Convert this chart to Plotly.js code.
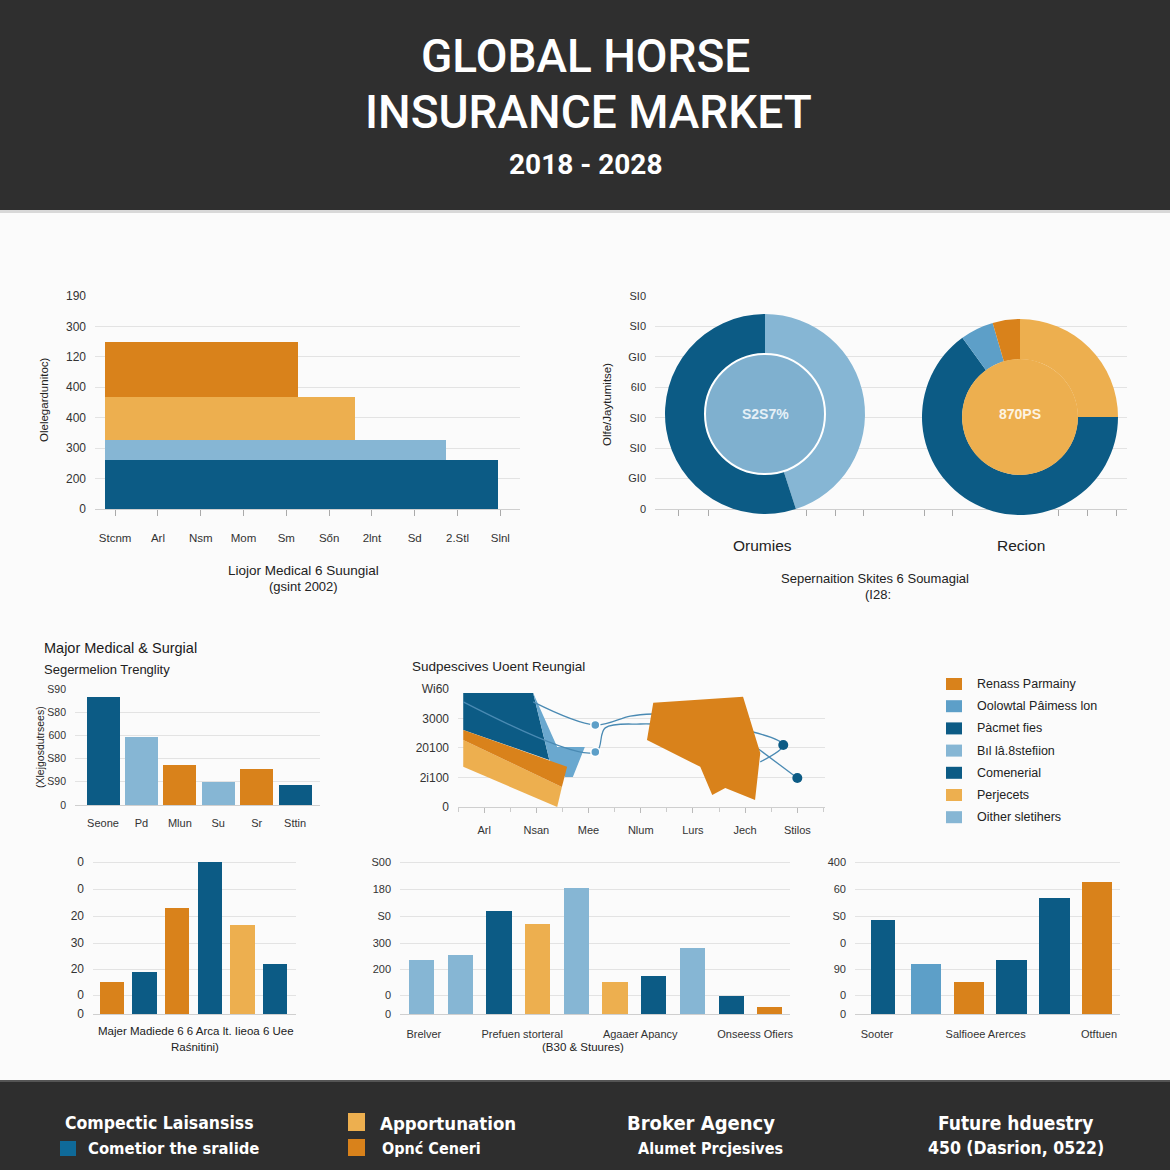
<!DOCTYPE html>
<html><head><meta charset="utf-8">
<script src="https://cdn.plot.ly/plotly-3.0.1.min.js"></script>
<style>html,body{margin:0;padding:0;background:#fbfbfb}#chart{width:1170px;height:1170px}</style>
</head><body><div id="chart"></div>
<script>
// ---------------- DATA ----------------
// Panel 1 (stepped horizontal bars)
const p1YTicks = ['0','200','300','400','400','120','300','190'];
const p1XTicks = ['Stcnm','Arl','Nsm','Mom','Sm','Sőn','2lnt','Sd','2.Stl','Slnl'];
const p1Start = -0.23;
const p1End  = [8.95, 7.73, 5.61, 4.28];
const p1Low  = [0, 1.61, 2.27, 3.68];
const p1High = [1.61, 2.27, 3.68, 5.49];

// Panel 2 (two donuts)
const p2YTicks = ['0','GI0','SI0','SI0','6I0','GI0','SI0','SI0'];
const donut1Values = [45, 55];
const donut2Values = [25, 65, 5.5, 4.5];
const donutNames = ['Orumies', 'Recion'];
const donutCenters = ['S2S7%', '870PS'];

// Panel 3
const p3Cats = ['Seone','Pd','Mlun','Su','Sr','Sttin'];
const p3Values = [4.66, 2.93, 1.72, 0.99, 1.55, 0.86];
const p3YTicks = ['0','S90','S80','600','S80','S90'];

// Panel 4 (areas + lines)
const p4Cats = ['Arl','Nsan','Mee','Nlum','Lurs','Jech','Stilos'];
const p4YTicks = ['0','2i100','20100','3000','Wi60'];
const p4DarkX = [-0.40, 0.94, 1.25, -0.40];
const p4DarkY = [3.86, 3.86, 1.59, 2.61];
const p4LightX = [0.94, 1.40, 1.93, 1.70, 1.55, 1.25];
const p4LightY = [3.86, 2.03, 2.03, 1.02, 1.02, 1.59];
const p4OrangeX = [-0.40, 1.59, 1.49, -0.40];
const p4OrangeY = [2.61, 1.36, 0.68, 2.27];
const p4LOrangeX = [-0.40, 1.49, 1.40, -0.40];
const p4LOrangeY = [2.27, 0.68, 0.00, 1.36];
const p4BigX = [3.24, 4.96, 5.29, 5.19, 4.62, 4.37, 4.14, 3.12];
const p4BigY = [3.53, 3.73, 1.83, 0.24, 0.64, 0.41, 1.36, 2.27];
const p4LineAX = [0.94, 2.13, 2.80, 3.24];
const p4LineAY = [3.56, 2.78, 3.08, 3.15];
const p4LineBX = [-0.40, 2.13, 2.32, 2.99, 3.24];
const p4LineBY = [3.56, 1.86, 2.68, 2.81, 2.81];
const p4LineCX = [5.15, 5.73, 5.29];
const p4LineCY = [2.54, 2.10, 1.53];
const p4LineDX = [5.23, 6.00];
const p4LineDY = [2.00, 0.98];
const p4PtsLX = [2.13, 2.13];
const p4PtsLY = [2.78, 1.86];
const p4PtsDX = [5.73, 6.00];
const p4PtsDY = [2.10, 0.98];

// Legend
const legendLabels = ['Renass Parmainy','Oolowtal Pâimess lon','Pàcmet fies','Bıl lâ.8stefiion','Comenerial','Perjecets','Oither sletihers'];

// Panel 5
const p5Values = [1.21, 1.59, 4.02, 5.76, 3.37, 1.89];
const p5YTicks = ['0','0','20','30','20','0','0'];

// Panel 6
const p6Values = [2.05, 2.23, 3.90, 3.41, 4.77, 1.21, 1.44, 2.50, 0.68, 0.27];
const p6Labels = ['Brelver','Prefuen storteral','Agaaer Apancy','Onseess Ofiers'];
const p6YTicks = ['0','0','200','300','S0','180','S00'];

// Panel 7
const p7Values = [3.56, 1.89, 1.21, 2.05, 4.39, 5.00];
const p7Labels = ['Sooter','Salfioee Arerces','Otftuen'];
const p7YTicks = ['0','0','90','0','S0','60','400'];

// ---------------- STYLE ----------------
const W = 1170, H = 1170;
const DARK='#0c5b85', LIGHT='#86b6d4', MID='#5d9fc8', ORANGE='#d9821b', LORANGE='#edaf4f', INNER1='#7fb0cf';
const FONT = 'Liberation Sans, Arial, sans-serif';
const TICKF = {family: FONT, size: 12, color: '#333'};
const GRID = '#e3e3e3';
const px = v => v / W, py = v => 1 - v / H;

const p1Colors = [DARK, LIGHT, LORANGE, ORANGE];
const d1Colors = [LIGHT, DARK];
const d2Colors = [LORANGE, DARK, MID, ORANGE];
const p3Colors = [DARK, LIGHT, ORANGE, LIGHT, ORANGE, DARK];
const p5Colors = [ORANGE, DARK, ORANGE, DARK, LORANGE, DARK];
const p6Colors = [LIGHT, LIGHT, DARK, LORANGE, LIGHT, LORANGE, DARK, LIGHT, DARK, ORANGE];
const p7Colors = [DARK, MID, ORANGE, DARK, DARK, ORANGE];
const p7Widths = [0.57, 0.70, 0.70, 0.72, 0.72, 0.70];
const legendColors = [ORANGE, MID, DARK, LIGHT, DARK, LORANGE, LIGHT];

const idx = a => a.map((_, i) => i);

// ---------------- TRACES ----------------
const traces = [];
// Panel 1
traces.push({type:'bar', orientation:'h', xaxis:'x', yaxis:'y',
  x: p1End.map(e => e - p1Start), base: p1Start,
  y: p1Low.map((l, i) => (l + p1High[i]) / 2),
  width: p1Low.map((l, i) => p1High[i] - l),
  marker:{color:p1Colors, line:{width:0}}, hoverinfo:'skip', showlegend:false});
// Panel 2 axes holder
traces.push({type:'scatter', mode:'markers', x:[null], y:[null], xaxis:'x2', yaxis:'y2', showlegend:false, hoverinfo:'skip'});
// Donuts
traces.push({type:'pie', values:donut1Values, marker:{colors:d1Colors, line:{width:0}}, hole:0.6, sort:false,
  direction:'clockwise', rotation:0, textinfo:'none', hoverinfo:'skip', showlegend:false,
  domain:{x:[px(665), px(865)], y:[py(514), py(314)]}});
traces.push({type:'pie', values:[1], marker:{colors:[INNER1], line:{color:'#ffffff', width:2}}, sort:false,
  textinfo:'none', hoverinfo:'skip', showlegend:false,
  domain:{x:[px(705), px(825)], y:[py(474), py(354)]}});
traces.push({type:'pie', values:donut2Values, marker:{colors:d2Colors, line:{width:0}}, hole:0.59, sort:false,
  direction:'clockwise', rotation:0, textinfo:'none', hoverinfo:'skip', showlegend:false,
  domain:{x:[px(922), px(1118)], y:[py(515), py(319)]}});
traces.push({type:'pie', values:[1], marker:{colors:[LORANGE], line:{width:0}}, sort:false,
  textinfo:'none', hoverinfo:'skip', showlegend:false,
  domain:{x:[px(962), px(1078)], y:[py(475), py(359)]}});
// Panel 3
traces.push({type:'bar', x:p3Cats, y:p3Values, width:0.86, xaxis:'x3', yaxis:'y3',
  marker:{color:p3Colors}, hoverinfo:'skip', showlegend:false});
// Panel 4
const poly = (x, y, c) => ({type:'scatter', mode:'lines', x:x, y:y, fill:'toself', fillcolor:c,
  line:{width:0, color:c}, xaxis:'x4', yaxis:'y4', hoverinfo:'skip', showlegend:false});
const lineT = (x, y) => ({type:'scatter', mode:'lines', x:x, y:y, line:{color:'#4a8ab3', width:1.3, shape:'spline'},
  xaxis:'x4', yaxis:'y4', hoverinfo:'skip', showlegend:false});
traces.push(poly(p4DarkX, p4DarkY, DARK));
traces.push(poly(p4LightX, p4LightY, '#6aa8cf'));
traces.push(poly(p4LOrangeX, p4LOrangeY, LORANGE));
traces.push(poly(p4OrangeX, p4OrangeY, ORANGE));
traces.push(lineT(p4LineAX, p4LineAY));
traces.push(lineT(p4LineBX, p4LineBY));
traces.push(lineT(p4LineCX, p4LineCY));
traces.push(lineT(p4LineDX, p4LineDY));
traces.push(poly(p4BigX, p4BigY, ORANGE));
traces.push({type:'scatter', mode:'markers', x:p4PtsLX, y:p4PtsLY, xaxis:'x4', yaxis:'y4',
  marker:{size:9, color:'#5d9fc8', line:{color:'#ffffff', width:1.5}}, hoverinfo:'skip', showlegend:false});
traces.push({type:'scatter', mode:'markers', x:p4PtsDX, y:p4PtsDY, xaxis:'x4', yaxis:'y4',
  marker:{size:10, color:DARK}, hoverinfo:'skip', showlegend:false});
// Panel 5-7
traces.push({type:'bar', x:idx(p5Values), y:p5Values, width:0.74, xaxis:'x5', yaxis:'y5',
  marker:{color:p5Colors}, hoverinfo:'skip', showlegend:false});
traces.push({type:'bar', x:idx(p6Values), y:p6Values, width:0.65, xaxis:'x6', yaxis:'y6',
  marker:{color:p6Colors}, hoverinfo:'skip', showlegend:false});
traces.push({type:'bar', x:idx(p7Values), y:p7Values, width:p7Widths, xaxis:'x7', yaxis:'y7',
  marker:{color:p7Colors}, hoverinfo:'skip', showlegend:false});

// ---------------- AXES ----------------
function xax(d0, d1, range, anchor, extra) {
  return Object.assign({domain:[px(d0), px(d1)], range:range, anchor:anchor, showgrid:false, zeroline:false,
    showline:true, linecolor:'#cfcfcf', linewidth:1, tickfont:TICKF, fixedrange:true}, extra || {});
}
function yax(top, bottom, range, vals, text, anchor, extra) {
  return Object.assign({domain:[py(bottom), py(top)], range:range, anchor:anchor, tickvals:vals, ticktext:text,
    showgrid:true, gridcolor:GRID, gridwidth:1, zeroline:false, showline:false, ticks:'',
    tickfont:TICKF, ticklabelstandoff:8, fixedrange:true}, extra || {});
}
const bottomY = [0, 0.72, 1.70, 2.69, 3.71, 4.73, 5.76];

const layout = {
  width: W, height: H, margin:{l:0, r:0, t:0, b:0},
  paper_bgcolor:'#fbfbfb', plot_bgcolor:'rgba(0,0,0,0)', showlegend:false, bargap:0,
  xaxis: xax(95, 520, [-0.47, 9.46], 'y', {tickvals:idx(p1XTicks), ticktext:p1XTicks, ticks:'outside', ticklen:6,
    tickcolor:'#aaa', ticklabelstandoff:12, tickfont:{family:FONT, size:11.5, color:'#333'}}),
  yaxis: yax(295, 509, [0, 7.03], idx(p1YTicks), p1YTicks, 'x'),
  xaxis2: xax(655, 1127, [655, 1127], 'y2', {tickvals:[678, 708, 806, 835, 863, 924, 952, 1058, 1087, 1116],
    showticklabels:false, ticks:'outside', ticklen:6, tickcolor:'#aaa'}),
  yaxis2: yax(295, 509, [0, 7.03], idx(p2YTicks), p2YTicks, 'x2', {tickfont:{family:FONT, size:11, color:'#333'}}),
  xaxis3: xax(75, 320, [-0.73, 5.65], 'y3', {type:'category', ticks:'', ticklabelstandoff:8,
    tickfont:{family:FONT, size:11, color:'#333'}}),
  yaxis3: yax(688, 805, [0, 5.04], idx(p3YTicks), p3YTicks, 'x3', {tickfont:{family:FONT, size:10.5, color:'#333'}}),
  xaxis4: xax(458, 825, [-0.5, 6.53], 'y4', {tickvals:idx(p4Cats), ticktext:p4Cats, ticks:'outside', ticklen:5,
    tickcolor:'#bbb', ticklabelstandoff:8, tickfont:{family:FONT, size:11, color:'#333'},
    minor:{dtick:0.5, ticks:'outside', ticklen:4, tickcolor:'#ccc', showgrid:false}}),
  yaxis4: yax(688, 807, [0, 4.03], idx(p4YTicks), p4YTicks, 'x4', {tickfont:{family:FONT, size:12, color:'#333'}}),
  xaxis5: xax(93, 296, [-0.58, 5.64], 'y5', {showticklabels:false, ticks:''}),
  yaxis5: yax(861, 1014, [0, 5.8], bottomY, p5YTicks, 'x5'),
  xaxis6: xax(400, 790, [-0.556, 9.52], 'y6', {tickvals:[0.06, 2.6, 5.65, 8.62], ticktext:p6Labels, ticks:'',
    ticklabelstandoff:10, tickfont:{family:FONT, size:11, color:'#333'}}),
  yaxis6: yax(861, 1014, [0, 5.8], bottomY, p6YTicks, 'x6', {tickfont:{family:FONT, size:11, color:'#333'}}),
  xaxis7: xax(855, 1120, [-0.654, 5.54], 'y7', {tickvals:[-0.14, 2.4, 5.05], ticktext:p7Labels, ticks:'',
    ticklabelstandoff:10, tickfont:{family:FONT, size:11, color:'#333'}}),
  yaxis7: yax(861, 1014, [0, 5.8], bottomY, p7YTicks, 'x7', {tickfont:{family:FONT, size:11, color:'#333'}}),
  shapes: [], annotations: []
};

// ---------------- SHAPES / ANNOTATIONS ----------------
const rect = (x0, y0, x1, y1, c, layer) => ({type:'rect', xref:'paper', yref:'paper', x0:px(x0), x1:px(x1),
  y0:py(y1), y1:py(y0), fillcolor:c, line:{width:0}, layer:layer || 'below'});
layout.shapes.push(rect(0, 0, 1170, 210, '#2f2f2f'));
layout.shapes.push(rect(0, 210, 1170, 213, '#d8d8d8'));
layout.shapes.push(rect(0, 1081, 1170, 1170, '#2e2e2e'));
layout.shapes.push(rect(0, 1080, 1170, 1082, '#555555'));

function A(text, x, y, o) {
  o = o || {};
  return {text:text, x:px(x), y:py(y), xref:'paper', yref:'paper', showarrow:false,
    xanchor:o.xa || 'center', yanchor:'middle', textangle:o.rot || 0,
    font:{family:o.fam || FONT, size:o.size || 13, color:o.color || '#222', weight:o.w || 400}};
}
const TITLEF = 'Roboto, Liberation Sans, sans-serif';
const NARROW = 'Liberation Sans Narrow, DejaVu Sans Condensed, Roboto, sans-serif';
const an = layout.annotations;
an.push(A('GLOBAL HORSE', 585, 56, {size:46, color:'#ffffff', w:500, fam:TITLEF}));
an.push(A('INSURANCE MARKET', 588, 112, {size:46, color:'#ffffff', w:500, fam:TITLEF}));
an.push(A('2018 - 2028', 585, 165, {size:28, color:'#ffffff', w:700, fam:TITLEF}));

// Panel 1 texts
an.push(A('Olelegardunitoc)', 44, 400, {rot:-90, size:11.5}));
an.push(A('Liojor Medical 6 Suungial', 303, 570, {size:13.5, w:500}));
an.push(A('(gsint 2002)', 303, 586, {size:13}));
// Panel 2 texts
an.push(A('Olfe/Jaytumitse)', 607, 405, {rot:-90, size:11.5}));
an.push(A(donutCenters[0], 765, 414, {size:14, w:700, color:'#e6f0f7'}));
an.push(A(donutCenters[1], 1020, 414, {size:14, w:700, color:'#fdf4e3'}));
an.push(A(donutNames[0], 762, 545, {size:15.5, w:500}));
an.push(A(donutNames[1], 1021, 545, {size:15.5, w:500}));
an.push(A('Sepernaition Skites 6 Soumagial', 875, 578, {size:13}));
an.push(A('(I28:', 878, 594, {size:13}));
// Panel 3 texts
an.push(A('Major Medical & Surgial', 42, 648, {xa:'left', size:14.5, w:500, color:'#1a1a1a'}));
an.push(A('Segermelion Trenglity', 42, 669, {xa:'left', size:13}));
an.push(A('(Xlejgosdutrsees)', 40, 747, {rot:-90, size:10.5}));
// Panel 4 title
an.push(A('Sudpescives Uoent Reungial', 410, 666, {xa:'left', size:13.5}));
// Legend
legendLabels.forEach((t, i) => {
  const yc = 684 + i * 22.2;
  layout.shapes.push(rect(946, yc - 6, 962, yc + 6, legendColors[i], 'above'));
  an.push(A(t, 975, yc, {xa:'left', size:12.5, color:'#222'}));
});
// Bottom captions
an.push(A('Majer Madiede 6 6 Arca lt. Iieoa 6 Uee', 196, 1031, {size:11.5}));
an.push(A('Raśnitini)', 195, 1047, {size:11.5}));
an.push(A('(B30 & Stuures)', 583, 1047, {size:11.5}));

// Footer
const FW = '#ffffff';
an.push(A('Compectic Laisansiss', 63, 1123, {xa:'left', size:17.5, w:700, color:FW, fam:NARROW}));
layout.shapes.push(rect(60, 1141, 76, 1156, '#0f6a99', 'above'));
an.push(A('Cometior the sralide', 86, 1148, {xa:'left', size:16.5, w:700, color:FW, fam:NARROW}));
layout.shapes.push(rect(348, 1113, 365, 1131, LORANGE, 'above'));
an.push(A('Apportunation', 378, 1123, {xa:'left', size:18.5, w:700, color:FW, fam:NARROW}));
layout.shapes.push(rect(348, 1139, 365, 1156, ORANGE, 'above'));
an.push(A('Opnć Ceneri', 380, 1148, {xa:'left', size:16, w:700, color:FW, fam:NARROW}));
an.push(A('Broker Agency', 701, 1123, {size:20, w:700, color:FW, fam:NARROW}));
an.push(A('Alumet Prcjesives', 711, 1148, {size:16, w:700, color:FW, fam:NARROW}));
an.push(A('Future hduestry', 1015, 1123, {size:19, w:700, color:FW, fam:NARROW}));
an.push(A('450 (Dasrion, 0522)', 1016, 1148, {size:17.5, w:700, color:FW, fam:NARROW}));

Plotly.newPlot('chart', traces, layout, {staticPlot:true, displayModeBar:false});
</script>
</body></html>
